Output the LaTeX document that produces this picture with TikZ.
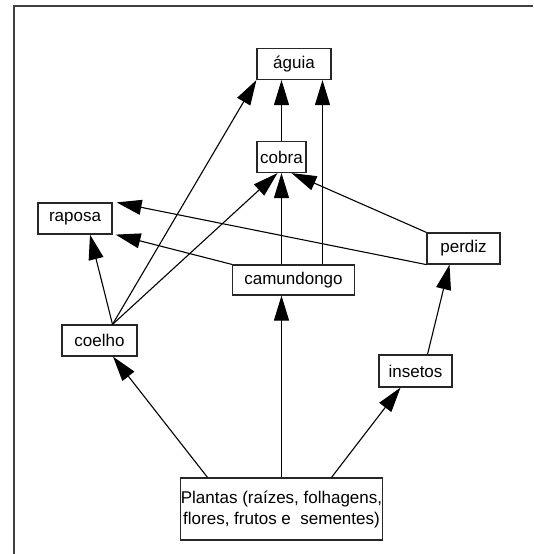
\documentclass[tikz,border=0pt]{standalone}
\usepackage{fontspec}
\setmainfont{Liberation Sans}
\usetikzlibrary{calc,positioning,arrows.meta}
\tikzset{
	>={Triangle[length=25pt,width=15pt]},
	box/.style={draw=black!85, line width=1.2pt, inner sep=0pt, minimum height=31pt,
		font=\fontsize{17}{21}\selectfont, align=center},
	arrow/.style={->, line width=1.1pt, draw=black},
	frame/.style={line width=1.6pt, draw=black!75},
}

\begin{document}
\begin{tikzpicture}[x=1pt,y=-1pt]
		\useasboundingbox (0,0) rectangle (533,554);
		\draw[frame] (533,6) -- (14,6) -- (14,554);

		\node[box, minimum width=74pt] (aguia) at (294,64) {águia};
		\node[box, minimum width=49pt] (cobra) at (281.5,157) {cobra};
		\node[box, minimum width=74pt] (raposa) at (75,218.5) {raposa};
		\node[box, minimum width=73pt] (perdiz) at (463.5,248.5) {perdiz};
		\node[box, minimum width=122pt, minimum height=30pt] (camundongo) at (293.5,280) {camundongo};
		\node[box, minimum width=75pt] (coelho) at (99.5,340.5) {coelho};
		\node[box, minimum width=73pt, minimum height=32pt] (insetos) at (415.5,371) {insetos};
		\node[box, minimum width=197pt, minimum height=62pt] (plantas) at (281.5,509)
			{Plantas (raízes, folhagens,\\flores, frutos e \ sementes)};

		% predadores de topo
		\draw[arrow] (cobra.north) -- (cobra.north |- aguia.south);
		\draw[arrow] ([xshift=29pt]camundongo.north) -- ([xshift=29pt]camundongo.north |- aguia.south);
		\draw[arrow] ([xshift=13pt]coelho.north) -- (aguia.south west);

		% cobra
		\draw[arrow] (cobra.south |- camundongo.north) -- (cobra.south);
		\draw[arrow] ([xshift=13pt]coelho.north) -- ([xshift=-4pt]cobra.south);
		\draw[arrow] (perdiz.north west) -- ([xshift=10pt]cobra.south);

		% raposa
		\draw[arrow] ([xshift=13pt]coelho.north) -- ([xshift=15pt]raposa.south);
		\draw[arrow] (camundongo.north west) -- ([xshift=3pt]raposa.south east);
		\draw[arrow] (perdiz.south west) -- ([xshift=4pt]raposa.north east);

		% perdiz
		\draw[arrow] ([xshift=12pt]insetos.north) -- ([xshift=-14pt]perdiz.south);

		% plantas
		\draw[arrow] ([xshift=-74pt]plantas.north) -- ([xshift=13.5pt]coelho.south);
		\draw[arrow] (plantas.north) -- (plantas.north |- camundongo.south);
		\draw[arrow] ([xshift=50pt]plantas.north) -- ([xshift=-15pt]insetos.south);
	\end{tikzpicture}
\end{document}
